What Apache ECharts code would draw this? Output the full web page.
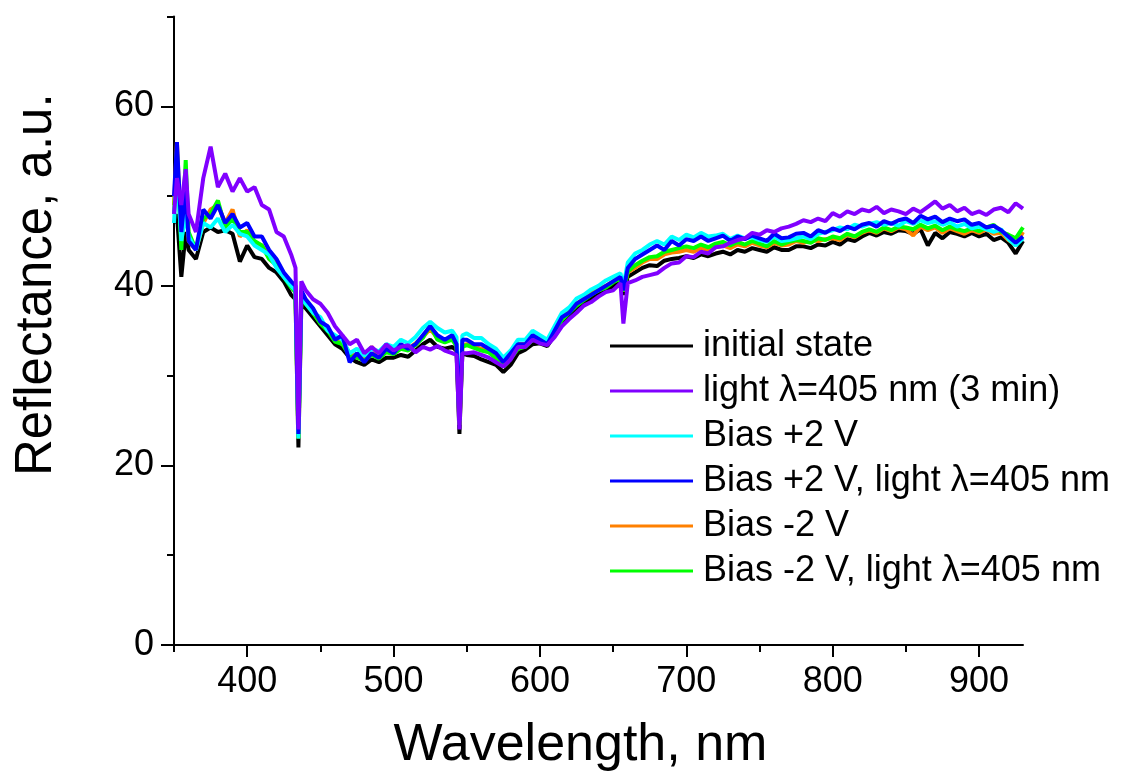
<!DOCTYPE html>
<html><head><meta charset="utf-8">
<script src="https://cdn.jsdelivr.net/npm/echarts@6/dist/echarts.min.js"></script>
<style>html,body{margin:0;padding:0;background:#fff}#c{width:1123px;height:778px}</style>
</head><body><div id="c"></div>
<script>
const wavelength = [350,352,355,358,360,365,370,375,380,385,390,395,400,405,410,415,420,425,430,433,435,437,
440,445,450,455,460,465,470,475,480,485,490,495,500,505,510,515,520,525,530,535,540,543,545,547,
550,555,560,565,570,575,580,585,590,595,600,605,610,615,620,625,630,635,640,645,650,655,657,
660,665,670,675,680,685,690,695,700,705,710,715,720,725,730,735,740,745,750,755,760,765,770,775,780,785,790,795,
800,805,810,815,820,825,830,835,840,845,850,855,860,865,870,875,880,885,890,895,900,905,910,915,920,925,930];

const initialState = [47,48,41,46,44,43,46,46.5,46,46.2,45.8,42.7,44.5,43.2,43,42,41.5,40.5,39,38.5,22,38,
37.5,36.5,35.5,34.5,33.5,33,32,31.5,31.2,31.8,31.5,32,32,32.3,32.1,32.8,33.5,34,33.2,33,33.2,32.8,23.5,32.5,
32.3,32.2,31.8,31.5,31.2,30.4,31.2,32.5,32.9,33.5,33.6,33.3,34.5,35.8,36.8,37.5,38,38.6,39,39.4,40,40.5,39,
41,41.5,42,42.3,42.2,42.8,43,43.1,43.3,43.1,43.5,43.3,43.6,43.8,43.5,44,43.8,44.2,44,43.8,44.3,44,44,44.4,44.4,44.2,44.6,44.5,
44.9,44.6,45.2,45,45.5,45.9,45.6,46,45.8,46.2,46.1,45.8,46.3,44.5,45.9,45.3,46,45.8,45.5,45.9,45.5,45.8,45.1,45.4,44.8,43.6,45];

const light405 = [48,52,49,53,48,46,52,55.5,51,52.5,50.5,52,50.5,51,49,48.5,46,45.5,43.5,42,24,40.5,
39.5,38.5,38,37,35.5,34.5,33.5,34,32.5,33.2,32.5,33.5,32.8,33.2,33.4,32.6,33.2,32.9,33.3,32.8,32.5,32.3,24,32.5,
32.5,32.6,32.3,32,31.5,31,31.8,33.2,33.2,34,33.6,33.4,34.3,35.5,36.3,37,37.8,38.2,38.8,39.3,39.5,40.3,35.8,
40.3,40.6,41,41.2,41.4,42,42.5,42.6,43.3,43.2,43.8,43.6,44.3,44.4,44.8,45.1,45.3,45.9,45.7,46.2,46,46.4,46.6,46.9,47.3,47.1,47.5,47.2,
48.1,47.7,48.3,48,48.5,48.3,48.8,48.1,48.5,48.3,48,48.6,48.2,48.8,49.4,48.6,49,48.3,48.7,48,48.3,47.9,48.5,48.7,48.2,49.2,48.6];

const biasPlus2 = [47,53,45,48,45.5,44,47,46.5,47.5,46,46.8,45.8,45.5,44.5,44,43.5,42,41,40,39.5,23,39,
38,37,36.5,35,34.5,34,32.5,33,32.2,33,32.7,33.5,33.2,34,33.6,34.3,35.3,36,35.3,34.8,35,34.3,25,34.5,
34.7,34.2,34.2,33.5,33,32,32.8,34,34,35,34.5,34,35.5,37,37.6,38.6,39,39.6,40,40.6,41,41.4,40,
42.6,43.6,44,44.6,45,44.6,45.5,45.1,45.7,45.4,45.9,45.5,45.6,45.8,45.2,45.6,45.3,45.4,45.1,44.9,45.5,45,45.1,45.3,45.5,45.2,45.8,46,
46.2,46.5,46.3,46.8,46.6,46.9,47.1,46.8,47,46.7,47.2,46.9,47.3,47,47.2,46.8,47.1,46.6,46.9,46.4,46.6,46.3,46,46.3,45.2,44.5,45.3];

const biasPlus2Light = [50,56,46,51,45,44,48.5,47.5,49,47,48,46.5,47,45.5,45.5,44,43,41.5,40.5,40,23.5,39.5,
38.5,37.5,36,35.5,34,34.5,31.5,32.5,31.5,32.5,32,33,32.5,33.5,33,33.5,34.5,35.5,34.5,34,34.5,33.5,25,34,
34,33.5,33.5,33,32.5,31.5,32.5,33.5,33.5,34.5,34,33.5,35,36.5,37,38,38.5,39,39.5,40,40.5,41,39.5,
42,43,43.5,44,44.5,44,45,44.5,45.2,45,45.5,45,45.3,45.6,45,45.5,45.2,45.6,45.3,45,45.8,45.3,45.4,45.8,45.9,45.5,46.2,45.9,
46.4,46.1,46.6,46.3,46.8,47,46.6,47.2,46.9,47.3,47.5,47,47.8,47.4,47.7,47.1,47.5,47.2,47.4,46.8,47,46.5,46.7,46.2,45.5,44.8,45.5];

const biasMinus2 = [49,56,45,52,45,44,47,48.5,49,47,48.5,45.5,46.2,44.8,44.5,43.3,42.5,41.2,40,39.5,23,39,
38.3,37,35.9,35.2,34,33.8,32.5,32.2,32,33.2,32.3,32.9,32.6,33.2,33,33.6,34.3,35.2,34.2,33.8,34.1,33.5,24.5,33.4,
33.5,33.2,33,32.7,32,31.2,32.2,33.5,33.5,34.4,34,33.6,35,36.4,37.2,38,38.6,39.2,39.6,40,40.5,40.9,39.4,
41.5,42,42.6,43,43,43.5,43.7,43.8,44,43.8,44.2,44,44.3,44.5,44.2,44.6,44.4,44.8,44.5,44.3,44.8,44.5,44.6,45,44.8,45.1,45,45.2,
45.3,45.1,45.7,45.4,45.9,46.2,45.9,46.4,46.1,46.5,46.3,45.6,46.6,46.2,46.5,45.9,46.4,46.1,45.8,46.2,45.9,46.3,45.8,45.9,45.1,44.6,46];

const biasMinus2Light = [48,55,44,54,46,44,47.5,48,49.5,46.5,47.5,46,46,45,44.5,43,42.3,41,39.8,39.3,23,38.8,
38,37,35.8,35,33.8,33.5,32.2,32,31.7,32.3,31.9,32.6,32.4,33,32.8,33.4,34.2,35.6,34,33.7,34,33.3,24.5,33.2,
33.4,33.1,32.8,32.6,31.9,31,31.9,33,33.2,34,33.9,33.5,34.8,36.2,37,37.8,38.4,39,39.5,39.8,40.4,40.8,39.4,
41.6,42.3,42.8,43.2,43.3,43.8,44,44.2,44.4,44.2,44.6,44.3,44.7,44.9,44.5,44.9,44.6,45,44.7,44.4,45,44.6,44.9,45.1,45,44.8,45.3,45.1,
45.5,45.3,45.8,45.5,46,46.3,46,46.5,46.2,46.6,46.5,46.3,46.8,46.4,46.7,46.2,46.6,46.3,46.1,46.4,46.1,46.5,46.8,46,45.7,45.3,46.5];

const seriesNames = ['initial state','light \u03bb=405 nm (3 min)','Bias +2 V','Bias +2 V, light \u03bb=405 nm','Bias -2 V','Bias -2 V, light \u03bb=405 nm'];
const seriesValues = [initialState, light405, biasPlus2, biasPlus2Light, biasMinus2, biasMinus2Light];
const seriesColors = ['#000000','#8000ff','#00ffff','#0000ff','#ff8000','#00ff00'];
const drawOrder = [0,4,5,2,3,1];

const xMajorTicks = [400,500,600,700,800,900];
const xMinorTicks = [350,450,550,650,750,850];
const yMajorTicks = [0,20,40,60];
const yMinorTicks = [10,30,50,70];

const FONT = 'Liberation Sans, Arial, sans-serif';
const chart = echarts.init(document.getElementById('c'), null, {renderer:'canvas'});

const series = drawOrder.map(i => ({
  name: seriesNames[i], type: 'line', symbol: 'none', showSymbol: false,
  data: wavelength.map((w, k) => [w, seriesValues[i][k]]),
  lineStyle: {color: seriesColors[i], width: 4},
  itemStyle: {color: seriesColors[i]},
  xAxisIndex: 0, yAxisIndex: 0
}));

chart.setOption({
  animation: false,
  backgroundColor: '#fff',
  grid: {left: 174, right: 100, top: 16.5, bottom: 133, containLabel: false},
  legend: {
    data: seriesNames, orient: 'vertical', left: 605, top: 323,
    icon: 'rect', itemWidth: 83, itemHeight: 3, itemGap: 9,
    textStyle: {fontSize: 36, color: '#000', fontFamily: FONT, lineHeight: 36, padding: [0,0,0,5]},
    selectedMode: false
  },
  xAxis: [{
    type: 'value', min: 350, max: 930, position: 'bottom', offset: 0,
    axisLine: {show: true, lineStyle: {color: '#000', width: 2}},
    axisTick: {show: true, inside: false, length: 12, lineStyle: {color: '#000', width: 2}, customValues: xMajorTicks},
    axisLabel: {customValues: xMajorTicks, fontSize: 36, color: '#000', fontFamily: FONT, margin: 19},
    splitLine: {show: false},
    name: 'Wavelength, nm', nameLocation: 'middle', nameGap: 75,
    nameTextStyle: {fontSize: 52, color: '#000', fontFamily: FONT, padding: [0,36,0,0]}
  }, {
    type: 'value', min: 350, max: 930, position: 'bottom', offset: 0,
    axisLine: {show: false},
    axisTick: {show: true, length: 7, lineStyle: {color: '#000', width: 2}, customValues: xMinorTicks},
    axisLabel: {show: false}, splitLine: {show: false}
  }],
  yAxis: [{
    type: 'value', min: 0, max: 70, position: 'left', offset: 0,
    axisLine: {show: true, lineStyle: {color: '#000', width: 2}},
    axisTick: {show: true, inside: false, length: 13, lineStyle: {color: '#000', width: 2}, customValues: yMajorTicks},
    axisLabel: {customValues: yMajorTicks, fontSize: 36, color: '#000', fontFamily: FONT, margin: 20},
    splitLine: {show: false},
    name: 'Reflectance, a.u.', nameLocation: 'middle', nameGap: 112, nameRotate: 90,
    nameTextStyle: {fontSize: 51, color: '#000', fontFamily: FONT, padding: [0,0,0,92]}
  }, {
    type: 'value', min: 0, max: 70, position: 'left', offset: 0,
    axisLine: {show: false},
    axisTick: {show: true, length: 7, lineStyle: {color: '#000', width: 2}, customValues: yMinorTicks},
    axisLabel: {show: false}, splitLine: {show: false}
  }],
  series: series
});
</script></body></html>
